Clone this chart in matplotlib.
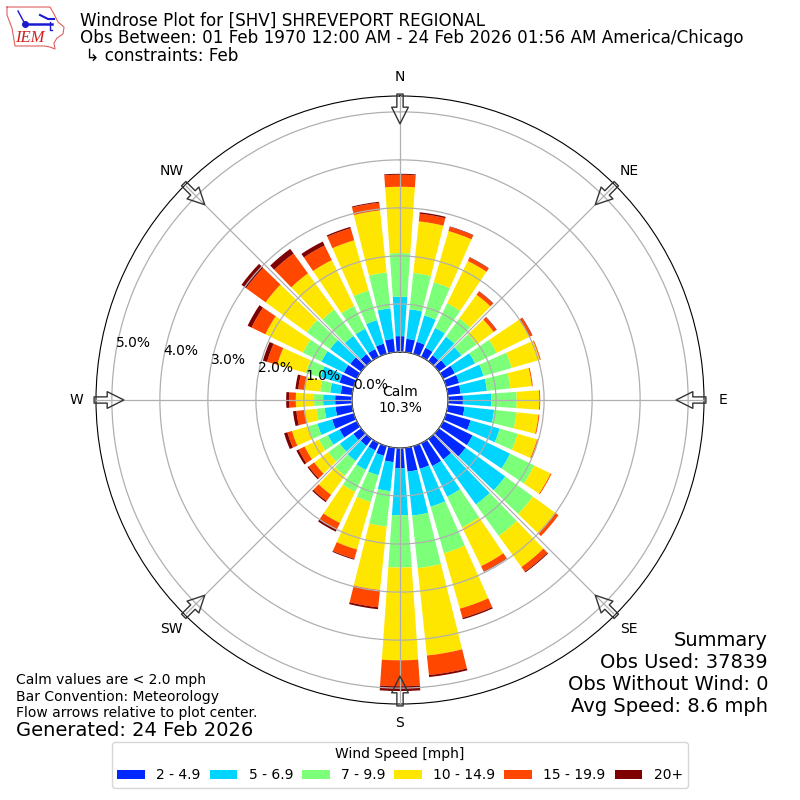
import numpy as np
import matplotlib
matplotlib.use("Agg")
import matplotlib.pyplot as plt

# wind direction of each bar, degrees from north
directions = np.arange(0, 360, 10)

top_2_49 = [.33, .28, .26, .21, .15, .19, .27, .28, .27, .31, .35, .53,
            .68, .69, .53, .53, .49, .50, .42, .30, .21, .17, .18, .20,
            .40, .47, .35, .35, .24, .31, .30, .28, .18, .18, .22, .28]
top_5_69 = [1.15, .90, .83, .67, .63, .58, .74, .81, .82, .90, .97, 1.16,
            1.55, 1.71, 1.69, 1.24, 1.31, 1.42, 1.40, .91, .63, .62, .57, .55,
            .67, .79, .58, .60, .46, .72, .82, .80, .65, .65, .73, .92]
top_7_99 = [2.06, 1.66, 1.55, 1.24, 1.10, .97, 1.24, 1.42, 1.31, 1.43, 1.44, 1.55,
            2.11, 2.42, 2.50, 1.95, 2.32, 2.52, 2.49, 1.65, 1.21, 1.13, .95, .85,
            .88, .99, .75, .79, .67, 1.04, 1.25, 1.40, 1.33, 1.18, 1.37, 1.67]
top_10_149 = [3.44, 2.74, 2.66, 2.22, 1.71, 1.41, 2.00, 2.03, 1.76, 1.90, 1.90, 1.97,
              2.49, 3.00, 3.30, 2.85, 3.52, 4.35, 4.42, 2.98, 2.24, 1.85, 1.44, 1.21,
              1.21, 1.34, 1.00, 1.17, .99, 1.66, 2.12, 2.46, 2.26, 2.24, 2.46, 2.97]
top_15_199 = [3.69, 2.90, 2.75, 2.30, 1.79, 1.48, 2.06, 2.05, 1.78, 1.92, 1.92, 1.99,
              2.51, 3.08, 3.42, 2.97, 3.72, 4.76, 4.96, 3.34, 2.44, 2.00, 1.60, 1.35,
              1.35, 1.44, 1.17, 1.31, 1.13, 1.88, 2.44, 2.96, 2.77, 2.58, 2.72, 3.13]
top_20 = [3.71, 2.93, 2.76, 2.31, 1.80, 1.49, 2.07, 2.05, 1.78, 1.92, 1.92, 1.99,
          2.51, 3.08, 3.44, 2.98, 3.75, 4.80, 5.06, 3.38, 2.46, 2.05, 1.63, 1.38,
          1.40, 1.51, 1.24, 1.37, 1.19, 1.97, 2.53, 3.08, 2.89, 2.67, 2.75, 3.15]

speed_tops = [top_2_49, top_5_69, top_7_99, top_10_149, top_15_199, top_20]
speed_labels = ["2 - 4.9", "5 - 6.9", "7 - 9.9", "10 - 14.9", "15 - 19.9", "20+"]
speed_colors = ["#0028ff", "#00d4ff", "#7cff79", "#ffe600", "#ff4700", "#7f0000"]

r_ticks = [0, 1, 2, 3, 4, 5]
compass_angles = [0, 45, 90, 135, 180, 225, 270, 315]
compass_labels = ["N", "NE", "E", "SE", "S", "SW", "W", "NW"]

fig = plt.figure(figsize=(8, 8), dpi=100)
ax = fig.add_axes([0.12, 0.12, 0.76, 0.76], projection="polar")
ax.set_theta_zero_location("N")
ax.set_theta_direction(-1)

# stack the speed bins outward
theta = np.radians(directions)
bottom = np.zeros(len(directions))
for tops, label, color in zip(speed_tops, speed_labels, speed_colors):
    tops = np.array(tops)
    ax.bar(theta, tops - bottom, width=np.radians(8), bottom=bottom,
           color=color, label=label, linewidth=0, zorder=2)
    bottom = tops

ax.set_rorigin(-1.0)
ax.set_ylim(0, 5.33)
ax.set_rticks(r_ticks)
ax.set_yticklabels([f"{v:.1f}%" for v in r_ticks], fontsize=10)
ax.set_rlabel_position(280)
ax.set_thetagrids(compass_angles, compass_labels, fontsize=10)
ax.grid(True, color="#b0b0b0", linewidth=0.9)
ax.set_axisbelow(False)
for t in ax.yaxis.get_ticklabels():
    t.set_zorder(5)

# flow arrows on the compass points
for ang in compass_angles:
    ax.annotate("", xy=(np.radians(ang), 4.75), xytext=(np.radians(ang), 5.37),
                annotation_clip=False, zorder=6,
                arrowprops=dict(arrowstyle="simple,head_length=12,head_width=12,tail_width=4.5",
                                mutation_scale=1, shrinkA=0, shrinkB=0,
                                fc="none", ec="#333333", lw=1))

ax.text(0.5, 0.5, "Calm\n10.3%", transform=ax.transAxes, ha="center", va="center",
        fontsize=10, zorder=7)

# header
fig.text(80 / 800, 1 - 21 / 800, "Windrose Plot for [SHV] SHREVEPORT REGIONAL", fontsize=12.02, va="center")
fig.text(80 / 800, 1 - 38 / 800, "Obs Between: 01 Feb 1970 12:00 AM - 24 Feb 2026 01:56 AM America/Chicago",
         fontsize=12.02, va="center")
fig.text(80 / 800, 1 - 56 / 800, " \u21b3 constraints: Feb", fontsize=12.02, va="center")

# notes at the bottom
for y, line in zip([680, 697, 713], ["Calm values are < 2.0 mph", "Bar Convention: Meteorology",
                                     "Flow arrows relative to plot center."]):
    fig.text(16 / 800, 1 - y / 800, line, fontsize=10, va="center")
fig.text(16 / 800, 1 - 730 / 800, "Generated: 24 Feb 2026", fontsize=14, va="center")

for y, line in zip([640, 662, 684, 706], ["Summary", "Obs Used: 37839", "Obs Without Wind: 0",
                                          "Avg Speed: 8.6 mph"]):
    fig.text(768 / 800, 1 - y / 800, line, fontsize=14, ha="right", va="center")

handles, labels = ax.get_legend_handles_labels()
fig.legend(handles, labels, title="Wind Speed [mph]", ncol=6, loc="lower center",
           bbox_to_anchor=(0.5, 0.0065), fontsize=10, title_fontsize=10, columnspacing=0.65)

# IEM logo, rough outline of Iowa with the wind symbol
logo = fig.add_axes([0, 1 - 60 / 800, 70 / 800, 60 / 800])
logo.set_xlim(0, 70)
logo.set_ylim(60, 0)
logo.axis("off")
outline_x = [7, 50, 54, 58, 64, 63, 57, 54, 55, 50, 44, 15, 12, 7, 7]
outline_y = [7, 7, 14, 22, 27, 34, 38, 43, 49, 47, 46, 46, 28, 15, 7]
logo.plot(outline_x, outline_y, color="#e06060", lw=0.8)
logo.plot([25, 52], [24, 24], color="#1a1ad0", lw=1.8)
logo.plot([18, 25], [11, 24], color="#1a1ad0", lw=1)
logo.plot([25], [24], "o", color="#1a1ad0", ms=4)
logo.plot([40, 48, 54], [15, 19, 19], color="#1a1ad0", lw=1.5)
logo.plot([50, 50, 52], [22, 30, 30], color="#1a1ad0", lw=1)
logo.text(30, 38, "IEM", color="#d02020", fontsize=12, family="Liberation Serif", style="italic",
          ha="center", va="center")

fig.savefig("out.png", dpi=100)
